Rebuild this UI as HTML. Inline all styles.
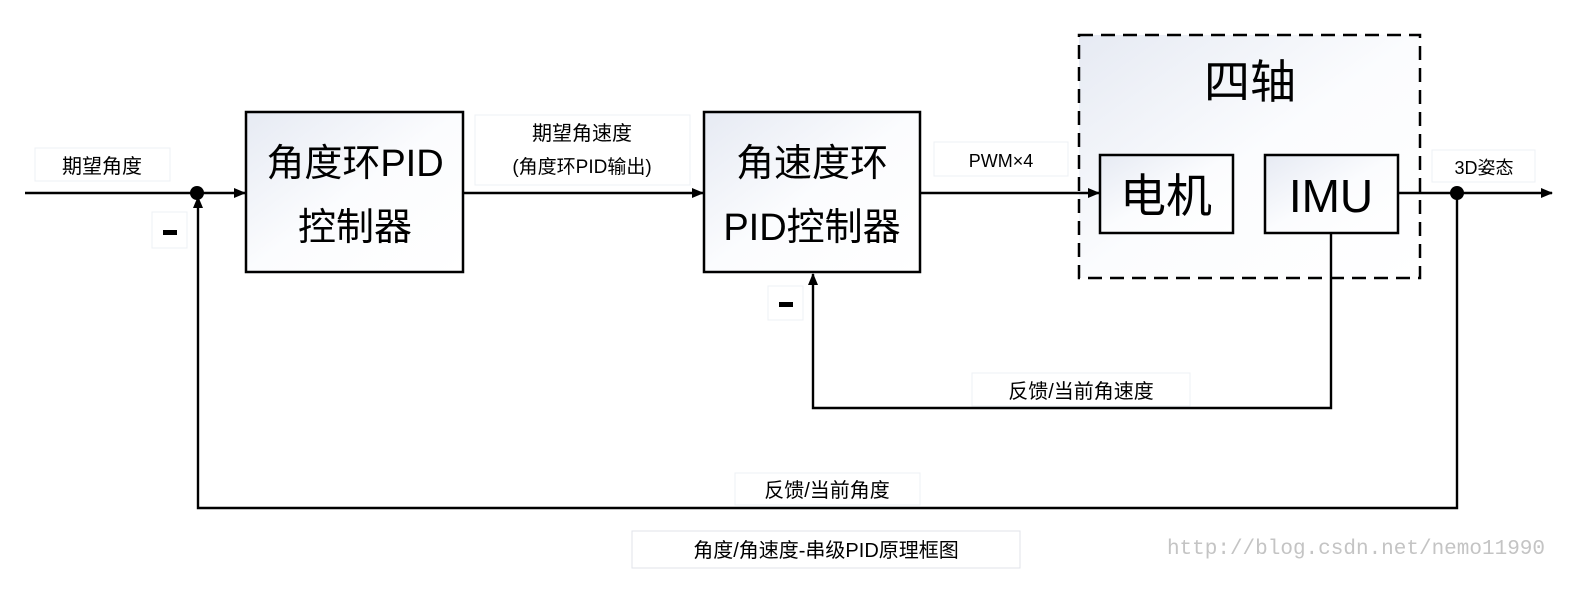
<!DOCTYPE html>
<html><head><meta charset="utf-8"><style>
html,body{margin:0;padding:0;background:#fff;overflow:hidden;}
svg{display:block;}
text{font-family:"Liberation Sans","Noto Sans CJK SC",sans-serif;fill:#000;}
</style></head><body>
<svg width="1596" height="604" viewBox="0 0 1596 604" xmlns="http://www.w3.org/2000/svg">
<defs>
<linearGradient id="g" x1="0" y1="0" x2="1" y2="1"><stop offset="0" stop-color="#e6eaf3"/><stop offset="0.5" stop-color="#fbfcfe"/><stop offset="1" stop-color="#ffffff"/></linearGradient>
<marker id="a" markerWidth="12" markerHeight="10" refX="11" refY="5" orient="auto" markerUnits="userSpaceOnUse"><path d="M0,0 L12,5 L0,10z" fill="#000"/></marker>
</defs>
<g fill="#fff" stroke="#eef0f4" stroke-width="1">
<rect x="35" y="148" width="135" height="33"/>
<rect x="152" y="212" width="35" height="36"/>
<rect x="475" y="115" width="215" height="70"/>
<rect x="934" y="142" width="134" height="34"/>
<rect x="1432" y="150" width="103" height="32"/>
<rect x="768" y="286" width="35" height="34"/>
<rect x="972" y="373" width="218" height="33"/>
<rect x="735" y="473" width="185" height="32"/>
<rect x="632" y="531" width="388" height="37" stroke="#e0e3ea"/>
</g>
<rect x="1079" y="35" width="341" height="243" fill="url(#g)" stroke="#000" stroke-width="2.5" stroke-dasharray="14,8"/>
<rect x="246" y="112" width="217" height="160" fill="url(#g)" stroke="#000" stroke-width="2.5"/>
<rect x="704" y="112" width="216" height="160" fill="url(#g)" stroke="#000" stroke-width="2.5"/>
<rect x="1100" y="155" width="133" height="78" fill="url(#g)" stroke="#000" stroke-width="2.5"/>
<rect x="1265" y="155" width="133" height="78" fill="url(#g)" stroke="#000" stroke-width="2.5"/>
<g stroke="#000" stroke-width="2.4" fill="none">
<line x1="25" y1="193" x2="245" y2="193" marker-end="url(#a)"/>
<line x1="463" y1="193" x2="703" y2="193" marker-end="url(#a)"/>
<line x1="920" y1="193" x2="1099" y2="193" marker-end="url(#a)"/>
<line x1="1398" y1="193" x2="1552" y2="193" marker-end="url(#a)"/>
<polyline points="1331,233 1331,408 813,408 813,274" marker-end="url(#a)"/>
<polyline points="1457,193 1457,508 198,508 198,197" marker-end="url(#a)"/>
</g>
<circle cx="197" cy="193" r="7" fill="#000"/>
<circle cx="1457" cy="193" r="7" fill="#000"/>
<rect x="163" y="230" width="14" height="5" fill="#000"/>
<rect x="779" y="302" width="14" height="5" fill="#000"/>
<text x="102" y="173" font-size="20" text-anchor="middle">期望角度</text>
<text x="582" y="140" font-size="20" text-anchor="middle">期望角速度</text>
<text x="582" y="173" font-size="19" text-anchor="middle">(角度环PID输出)</text>
<text x="1001" y="167" font-size="18" text-anchor="middle">PWM×4</text>
<text x="1484" y="174" font-size="18" text-anchor="middle">3D姿态</text>
<text x="1081" y="398" font-size="20" text-anchor="middle">反馈/当前角速度</text>
<text x="827" y="497" font-size="20" text-anchor="middle">反馈/当前角度</text>
<text x="826" y="557" font-size="20" text-anchor="middle">角度/角速度-串级PID原理框图</text>
<text x="355" y="176" font-size="38" text-anchor="middle">角度环PID</text>
<text x="355" y="240" font-size="38" text-anchor="middle">控制器</text>
<text x="812" y="176" font-size="38" text-anchor="middle">角速度环</text>
<text x="812" y="240" font-size="38" text-anchor="middle">PID控制器</text>
<text x="1250" y="98" font-size="46" text-anchor="middle">四轴</text>
<text x="1166" y="212" font-size="46" text-anchor="middle">电机</text>
<text x="1331" y="212" font-size="46" text-anchor="middle">IMU</text>
<text x="1545" y="554" font-size="21" style="fill:#c4c4c4;font-family:'Liberation Mono',monospace" text-anchor="end">http://blog.csdn.net/nemo11990</text>
</svg>
</body></html>
